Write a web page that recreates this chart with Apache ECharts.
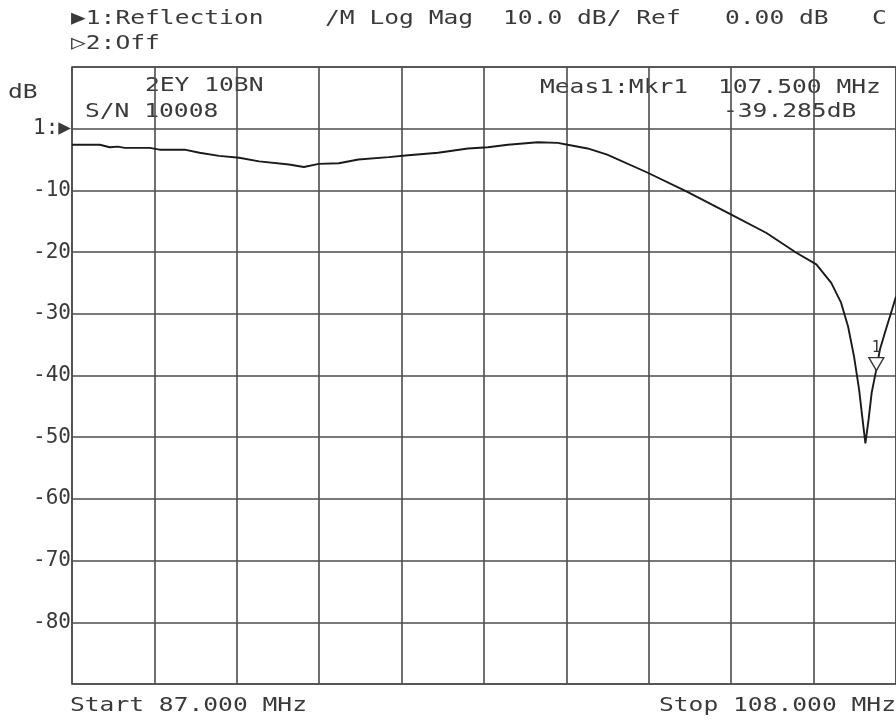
<!DOCTYPE html>
<html>
<head>
<meta charset="utf-8">
<script src="https://cdn.jsdelivr.net/npm/echarts@6/dist/echarts.min.js"></script>
<style>
  html, body { margin: 0; padding: 0; background: #fff; }
  #chart { width: 896px; height: 720px; }
</style>
</head>
<body>
<div id="chart"></div>
<script>
// trace 1: reflection, log mag (frequency in MHz, level in dB)
var freqMHz = [87.00, 87.71, 87.96, 88.17, 88.34, 88.98, 89.23, 89.87, 90.25, 90.75,
  91.26, 91.77, 92.53, 92.91, 93.29, 93.80, 94.30, 95.07, 95.57, 96.33,
  97.09, 97.60, 98.11, 98.87, 99.38, 99.63, 100.14, 100.64, 101.66, 102.67,
  103.79, 104.70, 105.46, 105.97, 106.35, 106.60, 106.78, 106.93, 107.06, 107.14,
  107.22, 107.30, 107.38, 107.49, 107.59, 107.74, 107.90, 108.00];
var levelDb = [-2.6, -2.6, -3.0, -2.9, -3.1, -3.1, -3.4, -3.4, -3.9, -4.4,
  -4.7, -5.3, -5.8, -6.2, -5.7, -5.6, -5.0, -4.6, -4.3, -3.9,
  -3.2, -3.0, -2.6, -2.2, -2.3, -2.6, -3.2, -4.2, -7.1, -10.2,
  -13.9, -16.9, -20.1, -22.0, -25.0, -28.2, -32.1, -36.9, -42.3, -46.7,
  -51.0, -47.2, -42.8, -39.3, -35.8, -32.6, -29.3, -27.2];

var startMHz = 87, stopMHz = 108;
var refDb = 0, scaleDb = 10, divisions = 10;
var marker1 = [107.5, -39.285];

var yTickLabels = { "0": "1:\u25B6", "-10": "-10", "-20": "-20", "-30": "-30", "-40": "-40",
  "-50": "-50", "-60": "-60", "-70": "-70", "-80": "-80" };

var headerTexts = [
  ["\u25B61:Reflection", 71, 19],
  ["/M Log Mag", 325, 19],
  ["10.0 dB/ Ref", 503, 19],
  ["0.00 dB", 725, 19],
  ["C", 872, 19],
  ["\u25B72:Off", 71, 44],
  ["dB", 8, 93],
  ["2EY 10BN", 145, 86],
  ["S/N 10008", 85, 112],
  ["Meas1:Mkr1", 540, 88],
  ["107.500 MHz", 718, 88],
  ["-39.285dB", 723, 112],
  ["Start 87.000 MHz", 70, 706],
  ["Stop 108.000 MHz", 659, 706]
];

var mono = "'DejaVu Sans Mono', 'Liberation Mono', monospace";
var chart = echarts.init(document.getElementById("chart"));

var points = freqMHz.map(function (f, i) { return [f, levelDb[i]]; });

chart.setOption({
  animation: false,
  backgroundColor: "#fff",
  grid: {
    left: 72,
    top: 67,
    width: 829,
    height: 617,
    show: true,
    borderColor: "#4d4d4d",
    borderWidth: 1.6
  },
  xAxis: [
    {
      type: "value",
      min: startMHz,
      max: stopMHz,
      show: false
    },
    {
      // graticule divisions
      type: "value",
      min: 0,
      max: divisions,
      interval: 1,
      axisLine: { show: false },
      axisTick: { show: false },
      axisLabel: { show: false },
      splitLine: { show: true, lineStyle: { color: "#4d4d4d", width: 1.6 } }
    }
  ],
  yAxis: {
    type: "value",
    min: refDb - 9 * scaleDb,
    max: refDb + scaleDb,
    interval: scaleDb,
    axisLine: { show: false },
    axisTick: { show: false },
    splitLine: { show: true, lineStyle: { color: "#4d4d4d", width: 1.6 } },
    axisLabel: {
      margin: 1,
      fontFamily: mono,
      fontSize: 21,
      color: "#3a3a3a",
      formatter: function (v) {
        return yTickLabels[String(v)] || "";
      }
    }
  },
  series: [
    {
      type: "line",
      xAxisIndex: 0,
      data: points,
      symbol: "none",
      lineStyle: { color: "#1a1a1a", width: 1.9 },
      markPoint: {
        symbol: "path://M0,0 L16,0 L8,14 Z",
        symbolSize: [15, 13],
        symbolOffset: [0, -7],
        itemStyle: { color: "#fff", borderColor: "#333", borderWidth: 1.3 },
        label: {
          show: true,
          position: "top",
          distance: 1,
          formatter: "1",
          fontFamily: mono,
          fontSize: 15,
          color: "#333"
        },
        data: [{ coord: marker1 }]
      }
    }
  ],
  graphic: headerTexts.map(function (t) {
    return {
      type: "text",
      x: t[1],
      y: t[2],
      scaleX: 1.23,
      style: {
        text: t[0],
        fontFamily: mono,
        fontSize: 20,
        fill: "#3a3a3a",
        verticalAlign: "middle",
        align: "left"
      }
    };
  })
});
</script>
</body>
</html>
